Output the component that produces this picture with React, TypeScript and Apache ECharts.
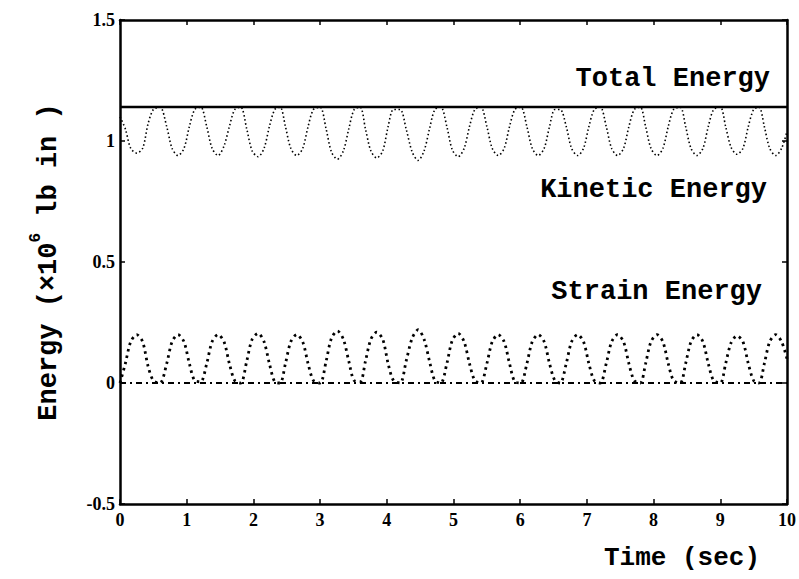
import React, { useEffect, useRef } from "react";
import * as echarts from "echarts";

// Sample times (s), shared by the kinetic and strain energy traces
const sampleTimes = [
  0.0, 0.08, 0.16, 0.25, 0.34, 0.42, 0.5,
  0.6, 0.7, 0.78, 0.87, 0.96, 1.04, 1.12,
  1.21, 1.3, 1.38, 1.47, 1.56, 1.64, 1.72,
  1.81, 1.9, 1.98, 2.07, 2.16, 2.24, 2.32,
  2.4, 2.48, 2.56, 2.65, 2.74, 2.82, 2.9,
  3.0, 3.09, 3.17, 3.26, 3.35, 3.43, 3.51,
  3.6, 3.68, 3.76, 3.85, 3.94, 4.02, 4.1,
  4.2, 4.29, 4.38, 4.47, 4.56, 4.64, 4.72,
  4.81, 4.9, 4.98, 5.07, 5.16, 5.24, 5.32,
  5.41, 5.5, 5.58, 5.67, 5.76, 5.84, 5.92,
  6.01, 6.1, 6.18, 6.27, 6.36, 6.44, 6.52,
  6.6, 6.69, 6.77, 6.86, 6.95, 7.03, 7.11,
  7.2, 7.29, 7.37, 7.46, 7.55, 7.63, 7.71,
  7.8, 7.88, 7.96, 8.05, 8.14, 8.22, 8.3,
  8.4, 8.48, 8.56, 8.65, 8.74, 8.82, 8.9,
  9.0, 9.08, 9.16, 9.25, 9.34, 9.42, 9.5,
  9.58, 9.66, 9.74, 9.83, 9.92, 10.0,
];

// Strain energy (x10^6 lb in)
const strainEnergy = [
  0, 0.08, 0.17, 0.2, 0.17, 0.07, 0.01,
  0, 0.08, 0.17, 0.2, 0.17, 0.08, 0.01,
  0.005, 0.08, 0.17, 0.2, 0.17, 0.08, 0.01,
  0, 0.09, 0.18, 0.205, 0.17, 0.08, 0.005,
  0, 0.08, 0.17, 0.2, 0.17, 0.08, 0.01,
  0, 0.09, 0.185, 0.215, 0.18, 0.09, 0.01,
  0.005, 0.09, 0.18, 0.21, 0.18, 0.08, 0.01,
  0, 0.09, 0.185, 0.22, 0.18, 0.09, 0.01,
  0, 0.08, 0.175, 0.205, 0.17, 0.08, 0.01,
  0, 0.08, 0.17, 0.2, 0.17, 0.08, 0.005,
  0, 0.08, 0.17, 0.2, 0.17, 0.08, 0.01,
  0, 0.08, 0.17, 0.2, 0.17, 0.08, 0.01,
  0, 0.08, 0.17, 0.2, 0.17, 0.08, 0.01,
  0, 0.08, 0.17, 0.2, 0.17, 0.08, 0.01,
  0, 0.08, 0.17, 0.2, 0.17, 0.08, 0.01,
  0, 0.08, 0.165, 0.195, 0.17, 0.08, 0.01,
  0, 0.08, 0.17, 0.2, 0.17, 0.1,
];

// Kinetic energy (x10^6 lb in)
const kineticEnergy = [
  1.1, 1.05, 0.97, 0.95, 0.97, 1.07, 1.13,
  1.14, 1.06, 0.97, 0.94, 0.97, 1.06, 1.13,
  1.14, 1.06, 0.97, 0.94, 0.98, 1.06, 1.13,
  1.14, 1.05, 0.96, 0.935, 0.97, 1.06, 1.13,
  1.14, 1.06, 0.97, 0.94, 0.97, 1.06, 1.13,
  1.14, 1.05, 0.955, 0.925, 0.96, 1.05, 1.13,
  1.14, 1.05, 0.96, 0.93, 0.96, 1.06, 1.13,
  1.13, 1.05, 0.955, 0.92, 0.96, 1.05, 1.13,
  1.14, 1.06, 0.965, 0.935, 0.97, 1.06, 1.13,
  1.14, 1.06, 0.97, 0.94, 0.97, 1.06, 1.13,
  1.14, 1.06, 0.97, 0.94, 0.97, 1.06, 1.13,
  1.13, 1.06, 0.97, 0.94, 0.97, 1.06, 1.13,
  1.14, 1.06, 0.97, 0.94, 0.97, 1.06, 1.13,
  1.14, 1.06, 0.97, 0.94, 0.97, 1.06, 1.13,
  1.14, 1.06, 0.97, 0.94, 0.97, 1.06, 1.13,
  1.14, 1.06, 0.975, 0.945, 0.97, 1.06, 1.13,
  1.14, 1.06, 0.97, 0.94, 0.97, 1.04,
];

// Total energy (constant) and the zero reference trace
const totalTimes = [0, 10];
const totalEnergy = [1.14, 1.14];
const zeroTimes = [0, 10];
const zeroEnergy = [0, 0];

const yTicks = [-0.5, 0, 0.5, 1, 1.5];
const xTicks = [0, 1, 2, 3, 4, 5, 6, 7, 8, 9, 10];

const labelTotal = "Total Energy";
const labelKinetic = "Kinetic Energy";
const labelStrain = "Strain Energy";
const labelX = "Time (sec)";

const zip = (xs: number[], ys: number[]) => xs.map((x, i) => [x, ys[i]]);

const MONO = '"Liberation Mono", "DejaVu Sans Mono", monospace';
const SERIF = '"Liberation Serif", "DejaVu Serif", serif';

export default function App() {
  const ref = useRef<HTMLDivElement>(null);

  useEffect(() => {
    if (!ref.current) return;
    const chart = echarts.init(ref.current, null, { renderer: "svg" });

    const axisCommon = {
      axisLine: { show: true, onZero: false, lineStyle: { color: "#000", width: 2.5 } },
      axisTick: { show: true, inside: true, length: 5, lineStyle: { color: "#000", width: 1.5 } },
      splitLine: { show: false },
    };
    const tickLabel = {
      color: "#000",
      fontFamily: SERIF,
      fontWeight: "bold" as const,
      fontSize: 18,
    };

    chart.setOption({
      animation: false,
      backgroundColor: "#fff",
      grid: { left: 120, right: 11, top: 20, bottom: 75, containLabel: false },
      xAxis: [
        {
          type: "value",
          min: xTicks[0],
          max: xTicks[xTicks.length - 1],
          interval: 1,
          position: "bottom",
          ...axisCommon,
          axisLabel: { ...tickLabel, margin: 7 },
        },
        {
          type: "value",
          min: xTicks[0],
          max: xTicks[xTicks.length - 1],
          interval: 1,
          position: "top",
          ...axisCommon,
          axisLabel: { show: false },
        },
      ],
      yAxis: [
        {
          type: "value",
          min: yTicks[0],
          max: yTicks[yTicks.length - 1],
          interval: 0.5,
          position: "left",
          ...axisCommon,
          axisLabel: { ...tickLabel, margin: 5 },
        },
        {
          type: "value",
          min: yTicks[0],
          max: yTicks[yTicks.length - 1],
          interval: 0.5,
          position: "right",
          ...axisCommon,
          axisLabel: { show: false },
        },
      ],
      series: [
        {
          name: "Total Energy",
          type: "line",
          data: zip(totalTimes, totalEnergy),
          showSymbol: false,
          lineStyle: { color: "#000", width: 2.5, type: "solid" },
        },
        {
          name: "Zero",
          type: "line",
          data: zip(zeroTimes, zeroEnergy),
          showSymbol: false,
          lineStyle: { color: "#000", width: 1.8, type: [6, 4, 2, 4] },
        },
        {
          name: "Kinetic Energy",
          type: "line",
          data: zip(sampleTimes, kineticEnergy),
          showSymbol: false,
          smooth: 0.3,
          lineStyle: { color: "#000", width: 1.6, type: [1.5, 2.5] },
        },
        {
          name: "Strain Energy",
          type: "line",
          data: zip(sampleTimes, strainEnergy),
          showSymbol: false,
          smooth: 0.3,
          lineStyle: { color: "#000", width: 2.8, type: [2.5, 4] },
        },
      ],
      graphic: [
        {
          type: "text",
          x: 770,
          y: 79,
          style: {
            text: labelTotal,
            fill: "#000",
            font: `bold 27px ${MONO}`,
            align: "right",
            verticalAlign: "middle",
          },
        },
        {
          type: "text",
          x: 767,
          y: 190,
          style: {
            text: labelKinetic,
            fill: "#000",
            font: `bold 27px ${MONO}`,
            align: "right",
            verticalAlign: "middle",
          },
        },
        {
          type: "text",
          x: 762,
          y: 292,
          style: {
            text: labelStrain,
            fill: "#000",
            font: `bold 27px ${MONO}`,
            align: "right",
            verticalAlign: "middle",
          },
        },
        {
          type: "text",
          x: 760,
          y: 558,
          style: {
            text: labelX,
            fill: "#000",
            font: `bold 26px ${MONO}`,
            align: "right",
            verticalAlign: "middle",
          },
        },
        {
          type: "text",
          x: 45,
          y: 262,
          rotation: Math.PI / 2,
          style: {
            text: "{n|Energy (×10}{s|6}{n| lb in )}",
            fill: "#000",
            align: "center",
            verticalAlign: "middle",
            rich: {
              n: { fontFamily: MONO, fontWeight: "bold", fontSize: 27, fill: "#000", verticalAlign: "bottom", lineHeight: 34 },
              s: { fontFamily: MONO, fontWeight: "bold", fontSize: 16, fill: "#000", verticalAlign: "top", lineHeight: 34 },
            },
          },
        },
      ],
    });

    return () => chart.dispose();
  }, []);

  return (
    <div
      ref={ref}
      style={{ position: "fixed", left: 0, top: 0, width: 799, height: 579, background: "#fff" }}
    />
  );
}
